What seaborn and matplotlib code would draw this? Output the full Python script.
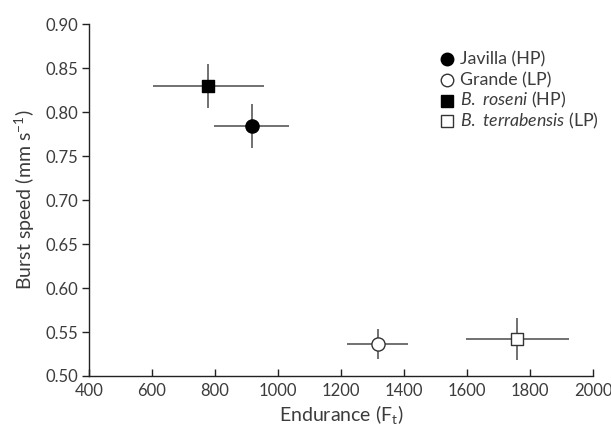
import matplotlib
matplotlib.use("Agg")
import matplotlib.pyplot as plt
import seaborn as sns
import pandas as pd

# values
groups = ["Javilla (HP)", "Grande (LP)", "B. roseni (HP)", "B. terrabensis (LP)"]
legend_labels = ["Javilla (HP)", "Grande (LP)",
                 r"$\it{B.\ roseni}$ (HP)",
                 r"$\it{B.\ terrabensis}$ (LP)"]
endurance = [916, 1316, 778, 1760]
endurance_err = [120, 98, 176, 164]
burst = [0.784, 0.536, 0.830, 0.542]
burst_err = [0.025, 0.017, 0.025, 0.024]
markers = ["o", "o", "s", "s"]
filled = [True, False, True, False]

x_ticks = [400, 600, 800, 1000, 1200, 1400, 1600, 1800, 2000]
y_ticks = [0.50, 0.55, 0.60, 0.65, 0.70, 0.75, 0.80, 0.85, 0.90]

df = pd.DataFrame({"group": groups, "endurance": endurance,
                   "endurance_err": endurance_err, "burst": burst,
                   "burst_err": burst_err})

sns.set_theme(style="ticks")
plt.rcParams["font.family"] = ["Lato", "DejaVu Sans"]
plt.rcParams["mathtext.fontset"] = "custom"
plt.rcParams["mathtext.rm"] = "Lato"
plt.rcParams["mathtext.it"] = "Lato:italic"

text_col = "#3c3c3c"
fig = plt.figure(figsize=(6.11, 4.40), dpi=100)
ax = fig.add_axes([0.1457, 0.1455, 0.8248, 0.7995])

# error bars first, markers on top
ax.errorbar(df["endurance"], df["burst"], xerr=df["endurance_err"],
            yerr=df["burst_err"], fmt="none", ecolor="#4a4a4a",
            elinewidth=1.1, capsize=0, zorder=1)

for i, row in df.iterrows():
    face = "black" if filled[i] else "white"
    size = 90 if markers[i] == "o" else 70
    sns.scatterplot(x=[row["endurance"]], y=[row["burst"]], ax=ax,
                    marker=markers[i], s=size, color=face,
                    edgecolor="black" if filled[i] else "#333333",
                    linewidth=1.0, legend=False, zorder=3)

ax.set_xlim(400, 2000)
ax.set_ylim(0.50, 0.90)
ax.set_xticks(x_ticks)
ax.set_yticks(y_ticks)
ax.set_xticklabels([str(v) for v in x_ticks])
ax.set_yticklabels([f"{v:.2f}" for v in y_ticks])
ax.tick_params(axis="x", direction="in", length=5, width=1, colors="#222222",
               labelcolor=text_col, labelsize=12, pad=5)
ax.tick_params(axis="y", direction="out", length=5, width=1, colors="#222222",
               labelcolor=text_col, labelsize=12, pad=3)
for s in ["left", "bottom"]:
    ax.spines[s].set_color("#222222")
    ax.spines[s].set_linewidth(1.0)
sns.despine(ax=ax)

ax.set_xlabel(r"Endurance (F$_{\mathrm{t}}$)", fontsize=14, color=text_col, labelpad=3)
ax.set_ylabel(r"Burst speed (mm s$^{\mathrm{-1}}$)", fontsize=14, color=text_col, labelpad=6)

# legend drawn by hand so the rows sit on an even baseline grid
leg_x, leg_tx, leg_y0, leg_dy = 0.710, 0.736, 0.900, 0.0588
for i, lab in enumerate(legend_labels):
    yy = leg_y0 - i * leg_dy
    ax.plot([leg_x], [yy], transform=ax.transAxes, clip_on=False,
            marker=markers[i], linestyle="none",
            markersize=9 if markers[i] == "o" else 8,
            markerfacecolor="black" if filled[i] else "white",
            markeredgecolor="black" if filled[i] else "#333333",
            markeredgewidth=1.0)
    ax.text(leg_tx, yy - 0.014, lab, transform=ax.transAxes, ha="left",
            va="baseline", fontsize=12.8, color=text_col)

fig.savefig("out.png", dpi=100)
